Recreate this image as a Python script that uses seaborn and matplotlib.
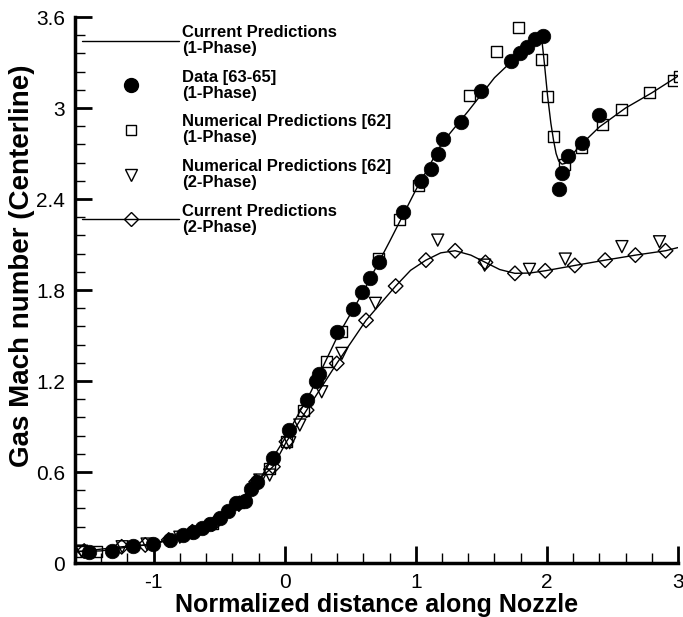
import matplotlib
matplotlib.use("Agg")
import matplotlib.pyplot as plt
from matplotlib.lines import Line2D
from matplotlib.ticker import MultipleLocator, FixedLocator
import seaborn as sns
import pandas as pd

# ---------------- data ----------------
# Current predictions, 1-phase (solid line)
line1_x = [-1.6, -1.4, -1.2, -1.0, -0.8, -0.6, -0.4, -0.2, 0.0, 0.2, 0.4, 0.6, 0.8,
           1.0, 1.2, 1.4, 1.6, 1.8, 1.9, 1.95, 1.965, 1.98, 2.005, 2.03, 2.05, 2.07,
           2.09, 2.115, 2.14, 2.17, 2.25, 2.4, 2.6, 2.8, 3.0]
line1_y = [0.075, 0.08, 0.105, 0.125, 0.17, 0.24, 0.37, 0.54, 0.82, 1.13, 1.49, 1.79, 2.12,
           2.46, 2.77, 2.98, 3.20, 3.364, 3.445, 3.475, 3.42, 3.30, 3.08, 2.90, 2.79, 2.70,
           2.65, 2.63, 2.635, 2.67, 2.75, 2.875, 3.0, 3.10, 3.21]

# Data [63-65] (1-Phase), filled circles
data_x = [-1.49, -1.32, -1.16, -1.005, -0.877, -0.777, -0.70, -0.628, -0.569, -0.495,
          -0.436, -0.372, -0.30, -0.256, -0.21, -0.09, 0.033, 0.167, 0.238, 0.264,
          0.398, 0.518, 0.59, 0.654, 0.718, 0.903, 1.038, 1.115, 1.167, 1.21, 1.341,
          1.50, 1.726, 1.797, 1.846, 1.91, 1.967, 2.095, 2.115, 2.159, 2.269, 2.397]
data_y = [0.075, 0.08, 0.114, 0.125, 0.15, 0.185, 0.205, 0.233, 0.257, 0.297,
          0.34, 0.398, 0.41, 0.488, 0.532, 0.692, 0.875, 1.077, 1.20, 1.248,
          1.523, 1.677, 1.785, 1.88, 1.986, 2.316, 2.518, 2.597, 2.70, 2.793, 2.905,
          3.111, 3.311, 3.364, 3.404, 3.452, 3.474, 2.465, 2.569, 2.683, 2.772, 2.953]

# Numerical Predictions [62] (1-Phase), open squares
num1_x = [-1.55, -1.436, -0.55, -0.35, -0.115, 0.013, 0.141, 0.32, 0.436, 0.713, 0.872,
          1.02, 1.41, 1.615, 1.782, 1.956, 2.005, 2.05, 2.134, 2.264, 2.423, 2.572,
          2.782, 2.967, 3.013]
num1_y = [0.075, 0.075, 0.26, 0.40, 0.626, 0.80, 1.008, 1.327, 1.525, 2.01, 2.266,
          2.487, 3.085, 3.375, 3.529, 3.32, 3.078, 2.815, 2.628, 2.738, 2.892, 2.993,
          3.103, 3.184, 3.206]

# Numerical Predictions [62] (2-Phase), open down-triangles
num2_x = [-1.55, -1.24, -1.05, -0.8, -0.55, -0.35, -0.19, -0.115, 0.038, 0.115, 0.282,
          0.436, 0.692, 1.167, 1.525, 1.867, 2.14, 2.572, 2.859]
num2_y = [0.078, 0.107, 0.125, 0.17, 0.25, 0.38, 0.547, 0.58, 0.793, 0.91, 1.129,
          1.382, 1.712, 2.129, 1.964, 1.936, 2.004, 2.086, 2.118]

# Current Predictions (2-Phase), line + open diamonds
cur2_x = [-1.53, -1.244, -1.064, -0.885, -0.705, -0.525, -0.346, -0.218, -0.09, 0.013,
          0.167, 0.397, 0.62, 0.846, 1.077, 1.3, 1.531, 1.756, 1.987, 2.213, 2.444,
          2.675, 2.905]
cur2_y = [0.079, 0.107, 0.119, 0.152, 0.206, 0.272, 0.393, 0.536, 0.635, 0.80,
          1.008, 1.316, 1.60, 1.826, 1.997, 2.059, 1.982, 1.91, 1.927, 1.962, 1.997,
          2.03, 2.059]
line2_x = [-1.6, -1.53, -1.244, -1.064, -0.885, -0.705, -0.525, -0.346, -0.218, -0.09,
           0.013, 0.167, 0.397, 0.62, 0.846, 0.96, 1.077, 1.19, 1.3, 1.42, 1.531, 1.64,
           1.756, 1.87, 1.987, 2.213, 2.444, 2.675, 2.905, 3.0]
line2_y = [0.075, 0.079, 0.107, 0.119, 0.152, 0.206, 0.272, 0.393, 0.536, 0.635,
           0.80, 1.008, 1.316, 1.60, 1.826, 1.93, 1.997, 2.045, 2.059, 2.03, 1.982, 1.935,
           1.91, 1.912, 1.927, 1.962, 1.997, 2.03, 2.059, 2.08]

xticks = [-1, 0, 1, 2, 3]
yticks = [0, 0.6, 1.2, 1.8, 2.4, 3.0, 3.6]
ytick_labels = ["0", "0.6", "1.2", "1.8", "2.4", "3", "3.6"]
legend_labels = ["Current Predictions\n(1-Phase)", "Data [63-65]\n(1-Phase)",
                 "Numerical Predictions [62]\n(1-Phase)",
                 "Numerical Predictions [62]\n(2-Phase)",
                 "Current Predictions\n(2-Phase)"]

# ---------------- plot ----------------
sns.set_style("ticks")
plt.rcParams['font.family'] = ['Liberation Sans', 'DejaVu Sans']
plt.rcParams['axes.unicode_minus'] = False
plt.rcParams['text.color'] = 'black'
plt.rcParams['axes.labelcolor'] = 'black'
plt.rcParams['xtick.color'] = 'black'
plt.rcParams['ytick.color'] = 'black'

fig = plt.figure(figsize=(6.83, 6.17), dpi=100)
ax = fig.add_axes([0.1098, 0.0875, 0.8829, 0.8849])

sns.lineplot(x=line1_x, y=line1_y, sort=False, color="black", linewidth=1.0, ax=ax, zorder=2)
sns.lineplot(x=line2_x, y=line2_y, sort=False, color="black", linewidth=1.0, ax=ax, zorder=2)

sns.scatterplot(x=num1_x, y=num1_y, marker="s", s=62, facecolors="none",
                edgecolors="black", linewidths=1.0, ax=ax, zorder=3)
sns.scatterplot(x=num2_x, y=num2_y, marker="v", s=75, facecolors="none",
                edgecolors="black", linewidths=1.0, ax=ax, zorder=3)
sns.scatterplot(x=cur2_x, y=cur2_y, marker="D", s=55, facecolors="none",
                edgecolors="black", linewidths=1.0, ax=ax, zorder=4)
sns.scatterplot(x=data_x, y=data_y, marker="o", s=110, color="black",
                edgecolor="black", linewidth=0.5, ax=ax, zorder=5)

ax.set_xlim(-1.6, 3.0)
ax.set_ylim(0, 3.6)
ax.xaxis.set_major_locator(FixedLocator(xticks))
ax.xaxis.set_minor_locator(MultipleLocator(0.2))
ax.yaxis.set_major_locator(FixedLocator(yticks))
ax.set_yticklabels(ytick_labels)
ax.yaxis.set_minor_locator(MultipleLocator(0.12))

for s in ["top", "right"]:
    ax.spines[s].set_visible(False)
for s in ["left", "bottom"]:
    ax.spines[s].set_linewidth(2.5)
    ax.spines[s].set_color("black")

ax.tick_params(which="major", direction="in", length=12, width=2.0, labelsize=15,
               colors="black", labelcolor="black")
ax.tick_params(axis="y", which="major", pad=7)
ax.tick_params(axis="x", which="major", pad=7)
ax.tick_params(which="minor", direction="in", length=7, width=1.0, colors="black")

ax.set_xlabel("Normalized distance along Nozzle", fontsize=18, fontweight="bold",
              labelpad=1, color="black")
ax.set_ylabel("Gas Mach number (Centerline)", fontsize=20, fontweight="bold", color="black")
ax.yaxis.set_label_coords(-0.066, 0.544)

handles = [
    Line2D([], [], color="black", lw=1.0),
    Line2D([], [], color="black", marker="o", ms=10, ls=""),
    Line2D([], [], color="black", marker="s", ms=7.5, mfc="none", ls=""),
    Line2D([], [], color="black", marker="v", ms=8.5, mfc="none", ls=""),
    Line2D([], [], color="black", marker="D", ms=7, mfc="none", lw=1.0),
]
leg = ax.legend(handles, legend_labels, loc="upper left", bbox_to_anchor=(0.012, 0.985),
                frameon=False, prop={"weight": "bold", "size": 12, "family": "Liberation Sans"},
                handlelength=5.8, handletextpad=0.2, labelspacing=0.82, borderaxespad=0,
                borderpad=0, labelcolor="black")
for t in leg.get_texts():
    t.set_linespacing(1.08)

fig.savefig("out.png", dpi=100)
